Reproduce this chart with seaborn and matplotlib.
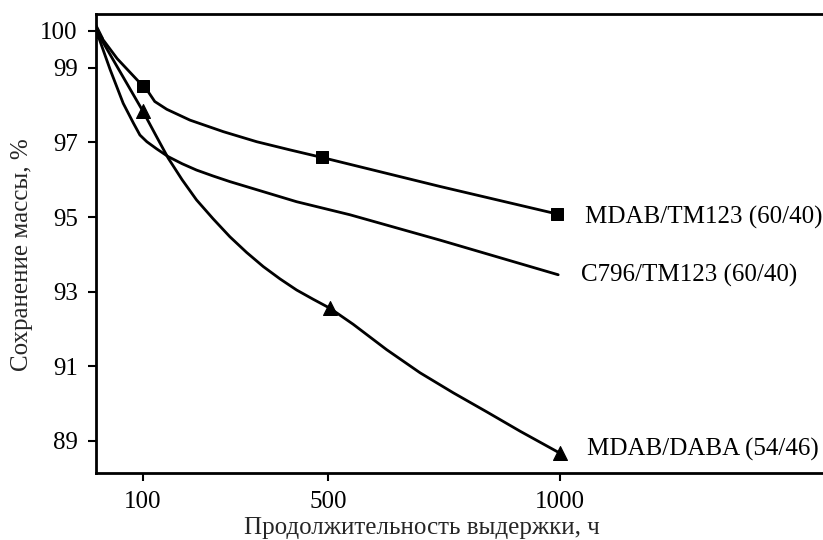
import matplotlib
matplotlib.use('Agg')
import matplotlib.pyplot as plt
import seaborn as sns
import pandas as pd

# ── Data ──────────────────────────────────────────────────────────────────
# MDAB/TM123 (60/40): curve trace + measured points
tm_x = [0, 45, 100, 112, 126, 152, 202, 274, 346, 418, 486, 741, 994]
tm_y = [100, 99.25, 98.52, 98.36, 98.10, 97.89, 97.60, 97.29, 97.02, 96.80, 96.60, 95.82, 95.08]
tm_px = [100, 486, 994]
tm_py = [98.52, 96.60, 95.08]

# C796/TM123 (60/40): curve only, no markers
c7_x = [0, 30, 58, 80, 94, 109, 130, 155, 185, 216, 252, 288, 360, 432, 547, 741, 996]
c7_y = [100, 98.95, 98.05, 97.52, 97.20, 97.02, 96.83, 96.62, 96.43, 96.26, 96.10, 95.95, 95.68, 95.41, 95.06, 94.38, 93.45]

# MDAB/DABA (54/46)
da_x = [0, 100, 128, 155, 185, 216, 252, 288, 324, 360, 396, 432, 468, 504,
        554, 626, 698, 770, 842, 914, 1000]
da_y = [100, 97.85, 97.20, 96.58, 96.00, 95.46, 94.95, 94.47, 94.05, 93.67, 93.34, 93.04, 92.79, 92.55,
        92.12, 91.44, 90.82, 90.28, 89.77, 89.25, 88.66]
da_px = [0, 100, 504, 1000]
da_py = [100, 97.85, 92.55, 88.66]

labels = ['MDAB/TM123 (60/40)', 'C796/TM123 (60/40)', 'MDAB/DABA (54/46)']
label_x = [1054, 1045, 1058]
label_y = [95.0, 93.42, 88.75]

x_ticks = [100, 500, 1000]
y_ticks = [89, 91, 93, 95, 97, 99, 100]

# ── Style ─────────────────────────────────────────────────────────────────
sns.set_theme(style='white')
plt.rcParams['font.family'] = ['Liberation Serif', 'DejaVu Serif']
FS = 18

fig = plt.figure(figsize=(8.23, 5.40), dpi=100)
ax = fig.add_axes([0.1163, 0.1241, 0.8837, 0.8494])

lines = pd.concat([
    pd.DataFrame({'x': tm_x, 'y': tm_y, 's': labels[0]}),
    pd.DataFrame({'x': c7_x, 'y': c7_y, 's': labels[1]}),
    pd.DataFrame({'x': da_x, 'y': da_y, 's': labels[2]}),
])
sns.lineplot(data=lines, x='x', y='y', units='s', estimator=None, sort=False,
             color='black', lw=2, solid_joinstyle='round', ax=ax, legend=False)

sns.scatterplot(x=tm_px, y=tm_py, marker='s', s=80, color='black',
                edgecolor='black', ax=ax, zorder=5, legend=False)
sns.scatterplot(x=da_px, y=da_py, marker='^', s=100, color='black',
                edgecolor='black', ax=ax, zorder=5, legend=False)

for t, lx, ly in zip(labels, label_x, label_y):
    ax.text(lx, ly, t, fontsize=FS, va='center', ha='left', color='black')

ax.set_xlim(-1.3, 1567)
ax.set_ylim(88.13, 100.44)
ax.set_xticks(x_ticks)
ax.set_yticks(y_ticks)
ax.tick_params(axis='both', direction='out', length=6, width=1.5,
               labelsize=FS, colors='black', left=True, bottom=True, pad=7)
for side in ['left', 'bottom', 'top']:
    ax.spines[side].set_visible(True)
    ax.spines[side].set_linewidth(2)
    ax.spines[side].set_color('black')
ax.spines['right'].set_visible(False)
ax.set_xlabel('')
ax.set_ylabel('')

fig.text(422 / 823, 1 - 528 / 540, 'Продолжительность выдержки, ч',
         fontsize=FS, ha='center', va='center')
fig.text(22 / 823, 1 - 255 / 540, 'Сохранение массы, %',
         fontsize=FS, ha='center', va='center', rotation=90)

fig.savefig('out.png', dpi=100, facecolor='white')
